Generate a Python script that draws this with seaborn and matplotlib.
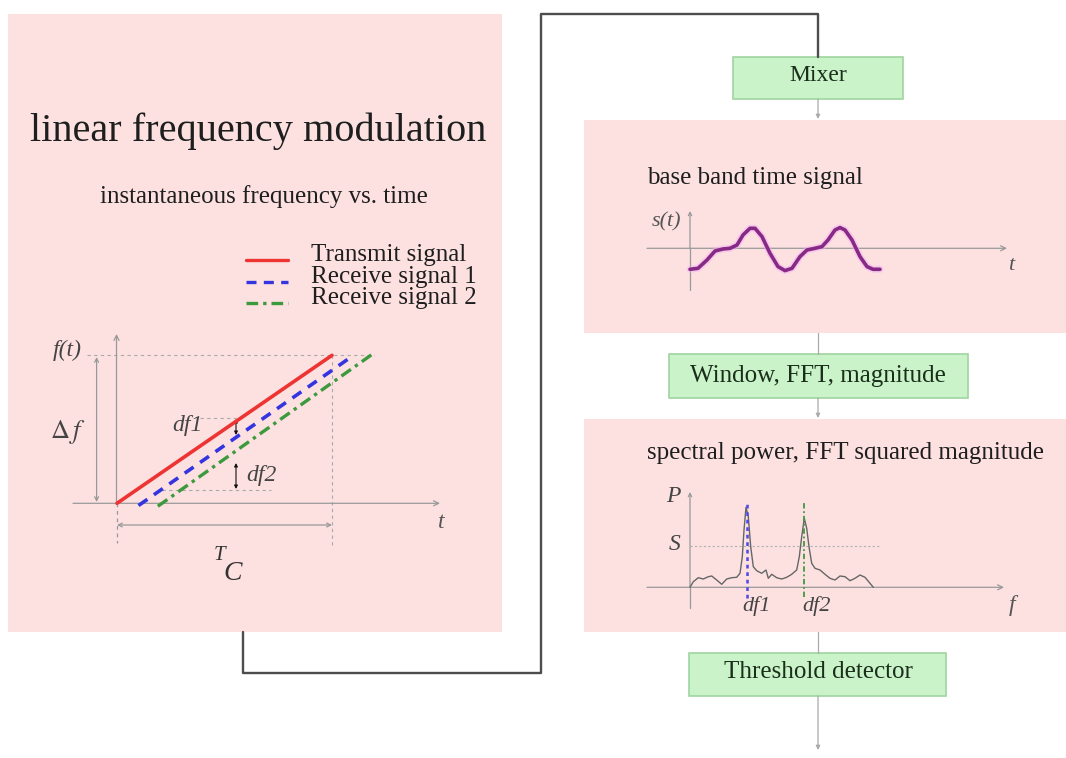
import matplotlib
matplotlib.use('Agg')
import matplotlib.pyplot as plt
import seaborn as sns
from matplotlib.patches import Rectangle

sns.set_theme(style='white')
plt.rcParams['font.family'] = ['Liberation Serif', 'DejaVu Serif']
plt.rcParams['mathtext.fontset'] = 'stix'

# ---- data ----
# linear frequency modulation: time in units of T_C, frequency in units of delta f
tx_t = [0.0, 1.0]
tx_f = [0.0, 1.0]
rx1_t = [0.10, 1.10]
rx1_f = [-0.015, 1.0]
rx2_t = [0.19, 1.19]
rx2_f = [-0.02, 1.01]

# base band time signal (arbitrary units)
sig_t = [0.0, 0.8, 1.7, 2.5, 3.3, 4.0, 4.7, 5.3, 6.0, 6.5, 7.2, 8.0, 8.8, 9.5,
         10.2, 11.0, 11.7, 12.5, 13.2, 13.8, 14.5, 15.0, 15.5, 16.2, 17.0, 17.7, 18.3, 19.0]
sig_s = [-2.1, -2.0, -1.17, -0.27, -0.07, 0.0, 0.33, 1.33, 2.0, 2.0, 1.17, -0.5, -1.83, -2.23,
         -2.0, -0.83, -0.17, 0.0, 0.17, 0.83, 1.83, 2.07, 1.83, 0.83, -0.83, -1.83, -2.1, -2.1]

# spectral power (arbitrary units)
spec_f = [0.0, 0.33, 0.83, 1.33, 1.83, 2.17, 2.67, 3.17, 3.67, 4.17, 4.67, 5.0, 5.23, 5.4,
          5.6, 5.83, 6.07, 6.33, 6.67, 7.17, 7.6, 7.83, 8.17, 8.67, 9.17, 9.67, 10.17, 10.67,
          10.93, 11.17, 11.43, 11.67, 11.9, 12.17, 12.5, 13.0, 13.5, 14.0, 14.5, 15.0, 15.5,
          16.0, 16.5, 17.0, 17.5, 18.0, 18.33]
spec_p = [0.0, 0.56, 0.96, 0.83, 1.06, 1.13, 0.73, 0.3, 0.83, 0.96, 1.0, 1.4, 3.06, 5.73,
          8.0, 7.06, 4.06, 2.06, 1.66, 1.4, 1.73, 0.9, 1.3, 0.96, 0.83, 1.0, 1.3, 1.73,
          3.06, 5.06, 6.9, 5.9, 4.06, 2.4, 1.9, 1.73, 1.3, 0.9, 0.73, 1.13, 1.06,
          0.66, 0.9, 1.23, 1.0, 0.4, 0.0]
threshold_s = 4.16
df1 = 5.67
df2 = 11.43

PINK = '#fde1e1'
GREEN = '#caf3ca'
GREEN_EDGE = '#9fd49f'
AXIS = '#999999'
TXT = '#1e1e1e'

W, H = 1066, 758
fig = plt.figure(figsize=(W / 100, H / 100), dpi=100)
fig.patch.set_facecolor('white')

# layout axes in pixel units (y down)
lay = fig.add_axes([0, 0, 1, 1])
lay.set_xlim(0, W)
lay.set_ylim(H, 0)
lay.axis('off')


def chart_axes(box, origin, scale):
    x0, x1, y0, y1 = box
    ox, oy = origin
    sx, sy = scale
    a = fig.add_axes([x0 / W, 1 - y1 / H, (x1 - x0) / W, (y1 - y0) / H])
    a.set_xlim((x0 - ox) / sx, (x1 - ox) / sx)
    a.set_ylim((oy - y1) / sy, (oy - y0) / sy)
    a.axis('off')
    a.patch.set_alpha(0)
    return a


def arrow(p0, p1, style='->', color=AXIS, lw=0.9, ms=9):
    lay.annotate('', xy=p1, xytext=p0,
                 arrowprops=dict(arrowstyle=style, color=color, lw=lw,
                                 mutation_scale=ms, shrinkA=0, shrinkB=0))


def seg(xs, ys, color=AXIS, lw=0.9, ls='-'):
    lay.plot(xs, ys, color=color, lw=lw, linestyle=ls)


# panels and boxes
for (x, y, w, h) in [(8, 14, 494, 618), (584, 120, 482, 213), (584, 419, 482, 213)]:
    lay.add_patch(Rectangle((x, y), w, h, fc=PINK, ec='none', zorder=0))
for (x, y, w, h) in [(733, 57, 170, 42), (669, 354, 299, 44), (689, 653, 257, 43)]:
    lay.add_patch(Rectangle((x, y), w, h, fc=GREEN, ec=GREEN_EDGE, lw=1.2, zorder=1))

# connecting frame line
seg([243, 243, 541, 541, 818, 818], [632, 673, 673, 14, 14, 57], color='#4d4d4d', lw=1.7)

# flow arrows
arrow((818, 99), (818, 119), style='-|>', color='#aaaaaa', ms=6)
seg([818, 818], [333, 354], color='#aaaaaa')
arrow((818, 398), (818, 418), style='-|>', color='#aaaaaa', ms=6)
seg([818, 818], [632, 653], color='#aaaaaa')
arrow((818, 696), (818, 750), style='-|>', color='#aaaaaa', ms=6)

# box labels
lay.text(818, 81, 'Mixer', fontsize=17, ha='center', va='baseline', color='#1a2e1a')
lay.text(818, 382, 'Window, FFT, magnitude', fontsize=18, ha='center', va='baseline', color='#1a2e1a')
lay.text(818, 678, 'Threshold detector', fontsize=18, ha='center', va='baseline', color='#1a2e1a')

# ---- left panel: linear frequency modulation ----
lay.text(258, 141, 'linear frequency modulation', fontsize=29, ha='center', va='baseline', color=TXT)
lay.text(264, 203, 'instantaneous frequency vs. time', fontsize=18, ha='center', va='baseline', color=TXT)

legend_rows = [('Transmit signal', '#ee3333', '-', 260),
               ('Receive signal 1', '#3535e0', (0, (3, 2.2)), 282),
               ('Receive signal 2', '#3c9a3c', (0, (3.5, 1.5, 1, 1.5)), 303)]
for label, col, ls, y in legend_rows:
    lay.plot([246, 288], [y, y], color=col, lw=2.4, linestyle=ls)
    lay.text(311, y + 1, label, fontsize=18, ha='left', va='baseline', color=TXT)

# chart axes and guides
seg([116.5, 116.5], [503, 543], ls=(0, (3, 3)))
arrow((116.5, 503.5), (116.5, 334))
arrow((73, 503.3), (440, 503.3))
seg([87, 374], [355, 355], color='#aaaaaa', lw=0.8, ls=(0, (3, 3)))
seg([332, 332], [355, 545], color='#aaaaaa', lw=0.8, ls=(0, (3, 3)))
arrow((96.6, 502), (96.6, 357), style='<->', ms=7)
arrow((117, 525), (332, 525), style='<->', ms=7)
seg([200, 236], [418, 418], color='#aaaaaa', lw=0.8, ls=(0, (3, 3)))
seg([162, 271], [489.5, 489.5], color='#aaaaaa', lw=0.8, ls=(0, (3, 3)))
arrow((236, 419), (236, 435), style='<|-|>', color='#111111', lw=0.8, ms=5)
arrow((236, 463), (236, 489), style='<|-|>', color='#111111', lw=0.8, ms=5)

lay.text(82, 350, 'f(t)', fontsize=17, style='italic', ha='right', va='center', color='#444444')
lay.text(68, 432, r'$\Delta\, f$', fontsize=19, ha='center', va='center', color='#444444')
lay.text(441, 522, 't', fontsize=17, style='italic', ha='center', va='center', color='#555555')
lay.text(219, 556, 'T', fontsize=15, style='italic', ha='center', va='center', color='#333333')
lay.text(233, 573, 'C', fontsize=20, style='italic', ha='center', va='center', color='#333333')
lay.text(187, 426, 'df1', fontsize=17, style='italic', ha='center', va='center', color='#444444')
lay.text(261, 475, 'df2', fontsize=17, style='italic', ha='center', va='center', color='#444444')

ax1 = chart_axes((20, 490, 320, 620), (117, 503.3), (215, 148))
sns.lineplot(x=tx_t, y=tx_f, ax=ax1, color='#ee3333', lw=2.6, estimator=None)
sns.lineplot(x=rx1_t, y=rx1_f, ax=ax1, color='#3535e0', lw=2.6, estimator=None,
             linestyle=(0, (3, 2.2)))
sns.lineplot(x=rx2_t, y=rx2_f, ax=ax1, color='#3c9a3c', lw=2.4, estimator=None,
             linestyle=(0, (3.5, 1.5, 1, 1.5)))

# ---- right panel 1: base band time signal ----
lay.text(647, 184, 'base band time signal', fontsize=18, ha='left', va='baseline', color=TXT)
seg([690, 690], [290, 248])
arrow((690, 248), (690, 211), ms=6)
arrow((647, 248.3), (1007, 248.3))
lay.text(666, 222, 's(t)', fontsize=16, style='italic', ha='center', va='center', color='#555555')
lay.text(1011, 266, 't', fontsize=16, style='italic', ha='center', va='center', color='#555555')

ax2 = chart_axes((600, 1060, 190, 300), (690, 248.3), (10, 10))
sns.lineplot(x=sig_t, y=sig_s, ax=ax2, color='#f4b0f4', lw=5, alpha=0.5, estimator=None)
sns.lineplot(x=sig_t, y=sig_s, ax=ax2, color='#862a86', lw=2.6, estimator=None)

# ---- right panel 2: spectral power ----
lay.text(647, 459, 'spectral power, FFT squared magnitude', fontsize=18, ha='left', va='baseline', color=TXT)
seg([690, 690], [608, 587])
arrow((690, 587.3), (690, 492), ms=6)
arrow((647, 587.3), (1004, 587.3))
lay.text(673, 497, 'P', fontsize=17, style='italic', ha='center', va='center', color='#444444')
lay.text(675, 545, 'S', fontsize=17, style='italic', ha='center', va='center', color='#444444')
lay.text(1012, 606, 'f', fontsize=17, style='italic', ha='center', va='center', color='#555555')
lay.text(757, 606, 'df1', fontsize=16, style='italic', ha='center', va='center', color='#444444')
lay.text(817, 606, 'df2', fontsize=16, style='italic', ha='center', va='center', color='#444444')

ax3 = chart_axes((600, 1060, 480, 620), (690, 587.3), (10, 10))
ax3.hlines(threshold_s, 0, 19, color='#b0b0b0', lw=0.8, linestyle=(0, (2, 2)))
sns.lineplot(x=spec_f, y=spec_p, ax=ax3, color='#666666', lw=1.0, estimator=None)
ax3.vlines(df1, -1.1, 8.4, color='#4a4ae6', lw=1.8, linestyle=(0, (1.5, 1.5)))
ax3.vlines(df2, -1.0, 8.4, color='#3f9a3f', lw=1.3, linestyle=(0, (3, 1.5, 1, 1.5)))

fig.savefig('out.png', dpi=100, facecolor='white')
